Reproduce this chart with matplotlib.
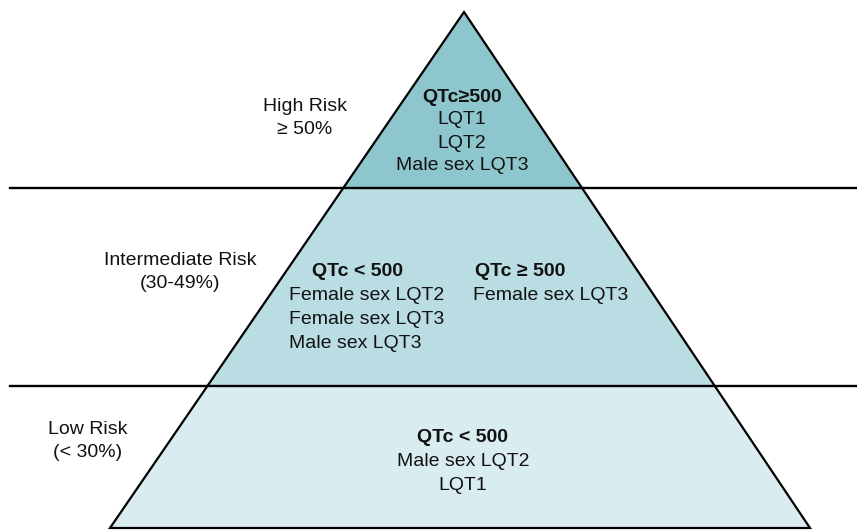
import matplotlib
matplotlib.use("Agg")
import matplotlib.pyplot as plt
from matplotlib.patches import Polygon

plt.rcParams['font.family'] = ['Liberation Sans', 'DejaVu Sans']

# pyramid geometry (pixel space, y downwards)
apex = (464, 12)
base_left = (110, 528)
base_right = (810, 528)
band_edges = [12, 188, 386, 528]
band_colors = ['#8ec6cd', '#b9dde2', '#d9edf0']

# risk labels on the left
risk_labels = ['High Risk\n\u2265 50%', 'Intermediate Risk\n(30-49%)', 'Low Risk\n(< 30%)']
risk_pos = [(305, 118), (180, 272), (88, 441)]

# content inside the pyramid: (x, y, text, bold, ha)
content = [
    (462, 97, 'QTc\u2265500', True, 'center'),
    (462, 120, 'LQT1', False, 'center'),
    (462, 143, 'LQT2', False, 'center'),
    (462, 166, 'Male sex LQT3', False, 'center'),
    (312, 271, 'QTc < 500', True, 'left'),
    (289, 295, 'Female sex LQT2', False, 'left'),
    (289, 319, 'Female sex LQT3', False, 'left'),
    (289, 343, 'Male sex LQT3', False, 'left'),
    (475, 271, 'QTc \u2265 500', True, 'left'),
    (473, 295, 'Female sex LQT3', False, 'left'),
    (463, 437, 'QTc < 500', True, 'center'),
    (463, 461, 'Male sex LQT2', False, 'center'),
    (463, 485, 'LQT1', False, 'center'),
]

W, H = 857, 530
fig = plt.figure(figsize=(W / 100, H / 100), dpi=100)
ax = fig.add_axes([0, 0, 1, 1])
ax.set_xlim(0, W)
ax.set_ylim(H, 0)
ax.axis('off')

tri = Polygon([base_left, apex, base_right], closed=True, facecolor='none',
              edgecolor='black', lw=1.6, zorder=3, joinstyle='miter')
ax.add_patch(tri)

for (y0, y1), c in zip(zip(band_edges[:-1], band_edges[1:]), band_colors):
    span = ax.axhspan(y0, y1, color=c, lw=0, zorder=1)
    span.set_clip_path(tri)

for y in band_edges[1:3]:
    ax.axhline(y, xmin=10 / W, xmax=1, color='black', lw=1.7, zorder=4)

for (x, y), t in zip(risk_pos, risk_labels):
    ax.text(x, y, t, ha='center', va='center', fontsize=14, color='#111111',
            linespacing=1.45)

for x, y, t, b, ha in content:
    ax.text(x, y, t, ha=ha, va='center', fontsize=14, color='#111111',
            fontweight='bold' if b else 'normal')

fig.savefig('out.png', dpi=100)
